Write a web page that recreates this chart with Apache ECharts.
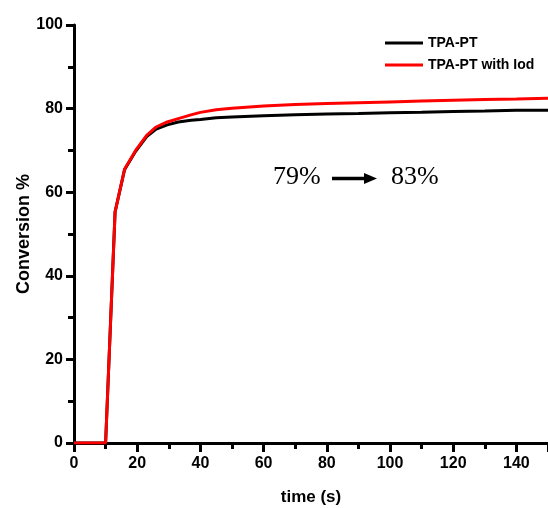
<!DOCTYPE html>
<html>
<head>
<meta charset="utf-8">
<script src="https://cdn.jsdelivr.net/npm/echarts@6/dist/echarts.min.js"></script>
<style>html,body{margin:0;padding:0;background:#fff}#c{width:548px;height:508px}</style>
</head>
<body>
<div id="c"></div>
<script>
var timeBlack = [0, 10, 13, 16, 19.5, 23, 26, 29.5, 33, 37, 40, 45, 50, 60, 70, 80, 90, 100, 110, 120, 130, 140, 150];
var convBlack = [0, 0, 55.3, 65.4, 69.8, 73.3, 75.1, 76.1, 76.8, 77.2, 77.4, 77.8, 78.0, 78.3, 78.5, 78.7, 78.8, 79.0, 79.1, 79.3, 79.4, 79.6, 79.6];
var timeRed = [0, 10, 13, 16, 19.5, 23, 26, 29.5, 33, 37, 40, 45, 50, 60, 70, 80, 90, 100, 110, 120, 130, 140, 150];
var convRed = [0, 0, 55.3, 65.5, 70.0, 73.6, 75.6, 76.8, 77.6, 78.5, 79.1, 79.7, 80.1, 80.6, 81.0, 81.2, 81.4, 81.6, 81.8, 82.0, 82.2, 82.3, 82.5];
var seriesNames = ['TPA-PT', 'TPA-PT with Iod'];
var annotation = ['79%', '83%'];

function pairs(xs, ys) { return xs.map(function (x, i) { return [x, ys[i]]; }); }

var tickFont = {color: '#000', fontWeight: 'bold', fontSize: 16, fontFamily: '"Liberation Sans", Arial, sans-serif'};
var chart = echarts.init(document.getElementById('c'), null, {renderer: 'canvas'});
chart.setOption({
  animation: false,
  backgroundColor: '#fff',
  grid: {left: 74, right: 0, top: 25, bottom: 65, containLabel: false, outerBoundsMode: 'none'},
  legend: {
    orient: 'vertical', left: 380, top: 30, itemWidth: 38, itemHeight: 3, itemGap: 6,
    icon: 'rect',
    textStyle: {color: '#000', fontWeight: 'bold', fontSize: 14, lineHeight: 16, fontFamily: '"Liberation Sans", Arial, sans-serif'},
    data: seriesNames
  },
  xAxis: {
    type: 'value', min: 0, max: 150, interval: 20,
    name: 'time (s)', nameLocation: 'middle', nameGap: 46, nameMoveOverlap: false,
    nameTextStyle: {color: '#000', fontWeight: 'bold', fontSize: 17, fontFamily: '"Liberation Sans", Arial, sans-serif'},
    axisLine: {show: true, lineStyle: {color: '#000', width: 3}},
    axisTick: {show: true, inside: false, length: 9, lineStyle: {color: '#000', width: 3}},
    minorTick: {show: true, splitNumber: 2, length: 6, lineStyle: {color: '#000', width: 3}},
    splitLine: {show: false},
    axisLabel: Object.assign({margin: 13, formatter: function (v) { return v === 150 ? '' : String(v); }}, tickFont)
  },
  yAxis: {
    type: 'value', min: 0, max: 100, interval: 20,
    name: 'Conversion %', nameLocation: 'middle', nameGap: 41, nameRotate: 90, nameMoveOverlap: false,
    nameTextStyle: {color: '#000', fontWeight: 'bold', fontSize: 18, fontFamily: '"Liberation Sans", Arial, sans-serif'},
    axisLine: {show: true, lineStyle: {color: '#000', width: 3}},
    axisTick: {show: true, inside: false, length: 8, lineStyle: {color: '#000', width: 3}},
    minorTick: {show: true, splitNumber: 2, length: 6, lineStyle: {color: '#000', width: 3}},
    splitLine: {show: false},
    axisLabel: Object.assign({margin: 11}, tickFont)
  },
  series: [
    {name: seriesNames[0], type: 'line', data: pairs(timeBlack, convBlack), showSymbol: false, symbol: 'none',
     lineStyle: {color: '#000', width: 3}, itemStyle: {color: '#000'}},
    {name: seriesNames[1], type: 'line', data: pairs(timeRed, convRed), showSymbol: false, symbol: 'none',
     lineStyle: {color: '#ff0000', width: 3}, itemStyle: {color: '#ff0000'}}
  ],
  graphic: [
    {type: 'text', left: 273, top: 164, style: {text: annotation[0], fill: '#000', font: '26px "Liberation Serif", "Times New Roman", serif'}},
    {type: 'line', shape: {x1: 332, y1: 178.5, x2: 367, y2: 178.5}, style: {stroke: '#000', lineWidth: 3.5}},
    {type: 'polygon', shape: {points: [[364, 173], [377, 178.5], [364, 184]]}, style: {fill: '#000'}},
    {type: 'text', left: 391, top: 164, style: {text: annotation[1], fill: '#000', font: '26px "Liberation Serif", "Times New Roman", serif'}}
  ]
});
</script>
</body>
</html>
